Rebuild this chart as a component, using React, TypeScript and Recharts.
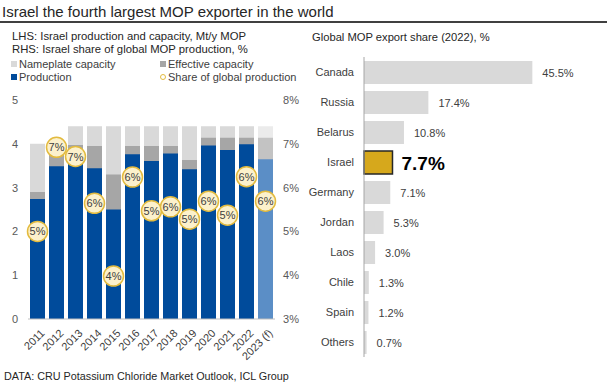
import React from "react";
import { Bar, BarChart, Cell, ComposedChart, LabelList, Line, XAxis, YAxis } from "recharts";

// left panel: Israel production / capacity (Mt/y) and share of global production (%)
const years = ["2011", "2012", "2013", "2014", "2015", "2016", "2017", "2018", "2019", "2020", "2021", "2022", "2023 (f)"];
const nameplate = [4.0, 4.0, 4.4, 4.4, 4.4, 4.4, 4.4, 4.4, 4.4, 4.4, 4.4, 4.4, 4.4];
const effective = [2.9, 3.85, 3.97, 3.95, 3.3, 3.95, 3.95, 3.95, 3.63, 4.14, 4.14, 4.14, 4.14];
const production = [2.74, 3.49, 3.85, 3.44, 2.5, 3.76, 3.61, 3.78, 3.42, 3.96, 3.86, 3.99, 3.65];
const share = [5.0, 6.92, 6.71, 5.64, 3.98, 6.24, 5.47, 5.56, 5.28, 5.69, 5.37, 6.25, 5.69];

// right panel: global MOP export share 2022
const countries = ["Canada", "Russia", "Belarus", "Israel", "Germany", "Jordan", "Laos", "Chile", "Spain", "Others"];
const exportShare = [45.5, 17.4, 10.8, 7.7, 7.1, 5.3, 3.0, 1.3, 1.2, 0.7];

const FONT = "'Liberation Sans', Arial, sans-serif";
const TXT = "#404040";

const leftData = years.map((y, i) => ({ year: y, nameplate: nameplate[i], effective: effective[i], production: production[i], share: share[i] }));
const rightData = countries.map((c, i) => ({ country: c, value: exportShare[i] }));

const last = years.length - 1;

function Bubble(props: any) {
  const { cx, cy, value, index } = props;
  if (cx == null || cy == null) return <g key={index} />;
  return (
    <g key={`b${index}`}>
      <circle cx={cx} cy={cy} r={10} fill="#fcf1cc" stroke="#e3bb3f" strokeWidth={1.5} />
      <text x={cx} y={cy + 4} textAnchor="middle" fontSize={11} fill={TXT} fontFamily={FONT}>
        {Math.round(value)}%
      </text>
    </g>
  );
}

function YearTick(props: any) {
  const { x, y, payload } = props;
  return (
    <g transform={`translate(${x + 5},${y + 4})`}>
      <text transform="rotate(-45)" textAnchor="end" fontSize={11} fill={TXT} fontFamily={FONT} dy={4}>
        {payload.value}
      </text>
    </g>
  );
}

function LeftTick(props: any) {
  const { y, payload } = props;
  return (
    <text x={15} y={y + 4} textAnchor="middle" fontSize={11} fill="#595959" fontFamily={FONT}>
      {payload.value}
    </text>
  );
}

function RightTick(props: any) {
  const { y, payload } = props;
  return (
    <text x={283} y={y + 4} textAnchor="start" fontSize={11} fill="#595959" fontFamily={FONT}>
      {payload.value}%
    </text>
  );
}

function CountryTick(props: any) {
  const { y, payload } = props;
  return (
    <text x={54} y={y + 4} textAnchor="end" fontSize={11} fill={TXT} fontFamily={FONT}>
      {payload.value}
    </text>
  );
}

function ShareLabel(props: any) {
  const { x, y, width, height, value, index } = props;
  const big = countries[index] === "Israel" || value === 7.7;
  return (
    <text
      x={x + width + (big ? 9 : 10)}
      y={y + height / 2 + (big ? 7 : 4)}
      fontSize={big ? 19 : 11}
      fontWeight={big ? "bold" : "normal"}
      fill={big ? "#000" : TXT}
      fontFamily={FONT}
    >
      {value.toFixed(1)}%
    </text>
  );
}

function Legend() {
  const item = (x: number, y: number, label: string, marker: React.ReactNode) => (
    <div style={{ position: "absolute", left: x, top: y, display: "flex", alignItems: "center", fontSize: 11, color: TXT, whiteSpace: "nowrap" }}>
      <span style={{ width: 7, marginRight: 2, display: "flex", justifyContent: "center" }}>{marker}</span>
      {label}
    </div>
  );
  const sq = (c: string) => <span style={{ display: "block", width: 6, height: 6, background: c }} />;
  return (
    <>
      {item(10, 58, "Nameplate capacity", sq("#d9d9d9"))}
      {item(159, 58, "Effective capacity", sq("#a6a6a6"))}
      {item(10, 71, "Production", sq("#004b9b"))}
      {item(159, 71, "Share of global production", <span style={{ display: "block", width: 4, height: 4, borderRadius: 3, border: "1px solid #e3bb3f" }} />)}
    </>
  );
}

export default function App() {
  return (
    <div style={{ position: "absolute", left: 0, top: 0, width: 611, height: 387, background: "#fff", fontFamily: FONT, overflow: "hidden" }}>
      <div style={{ position: "absolute", left: 2, top: 3, fontSize: 15, color: "#262626", whiteSpace: "nowrap" }}>
        Israel the fourth largest MOP exporter in the world
      </div>
      <div style={{ position: "absolute", left: 0, top: 21, width: 607, height: 1.5, background: "#404040" }} />

      <div style={{ position: "absolute", left: 12, top: 30, fontSize: 11.3, color: "#262626", lineHeight: "13px", whiteSpace: "nowrap" }}>
        LHS: Israel production and capacity, Mt/y MOP
        <br />
        RHS: Israel share of global MOP production, %
      </div>
      <Legend />

      <div style={{ position: "absolute", left: 0, top: 90 }}>
        <ComposedChart width={310} height={297} data={leftData} margin={{ top: 10, right: 0, bottom: 23, left: 0 }} barGap={-15} barSize={15}>
          <XAxis dataKey="year" interval={0} axisLine={{ stroke: "#bfbfbf" }} tickLine={false} tick={<YearTick />} height={45} />
          <YAxis yAxisId="l" domain={[0, 5]} ticks={[0, 1, 2, 3, 4, 5]} axisLine={false} tickLine={false} width={28} tick={<LeftTick />} />
          <YAxis yAxisId="r" orientation="right" domain={[3, 8]} ticks={[3, 4, 5, 6, 7, 8]} axisLine={false} tickLine={false} width={35} tick={<RightTick />} />
          <Bar yAxisId="l" dataKey="nameplate" isAnimationActive={false}>
            {leftData.map((_, i) => <Cell key={i} fill={i === last ? "#ebebeb" : "#d9d9d9"} />)}
          </Bar>
          <Bar yAxisId="l" dataKey="effective" isAnimationActive={false}>
            {leftData.map((_, i) => <Cell key={i} fill={i === last ? "#c3c3c3" : "#a6a6a6"} />)}
          </Bar>
          <Bar yAxisId="l" dataKey="production" isAnimationActive={false}>
            {leftData.map((_, i) => <Cell key={i} fill={i === last ? "#5b8ec6" : "#004b9b"} />)}
          </Bar>
          <Line yAxisId="r" dataKey="share" stroke="none" strokeWidth={0} dot={(p: any) => <Bubble {...p} key={`d${p.index}`} />} activeDot={false} isAnimationActive={false} />
        </ComposedChart>
      </div>

      <div style={{ position: "absolute", left: 312, top: 31, fontSize: 11.2, color: "#262626", whiteSpace: "nowrap" }}>
        Global MOP export share (2022), %
      </div>
      <div style={{ position: "absolute", left: 300, top: 0 }}>
        <BarChart width={311} height={387} data={rightData} layout="vertical" margin={{ top: 57, right: 62, bottom: 30, left: 0 }} barSize={23}>
          <XAxis type="number" domain={[0, 50]} hide />
          <YAxis type="category" dataKey="country" width={64} axisLine={{ stroke: "#a6a6a6" }} tickLine={false} tick={<CountryTick />} interval={0} />
          <Bar dataKey="value" isAnimationActive={false}>
            {rightData.map((d, i) =>
              d.country === "Israel" ? <Cell key={i} fill="#d6a81c" stroke="#262626" strokeWidth={1.5} /> : <Cell key={i} fill="#d9d9d9" />
            )}
            <LabelList dataKey="value" content={<ShareLabel />} />
          </Bar>
        </BarChart>
      </div>

      <div style={{ position: "absolute", left: 4, top: 370, fontSize: 10.8, color: "#262626", whiteSpace: "nowrap" }}>
        DATA: CRU Potassium Chloride Market Outlook, ICL Group
      </div>
    </div>
  );
}
